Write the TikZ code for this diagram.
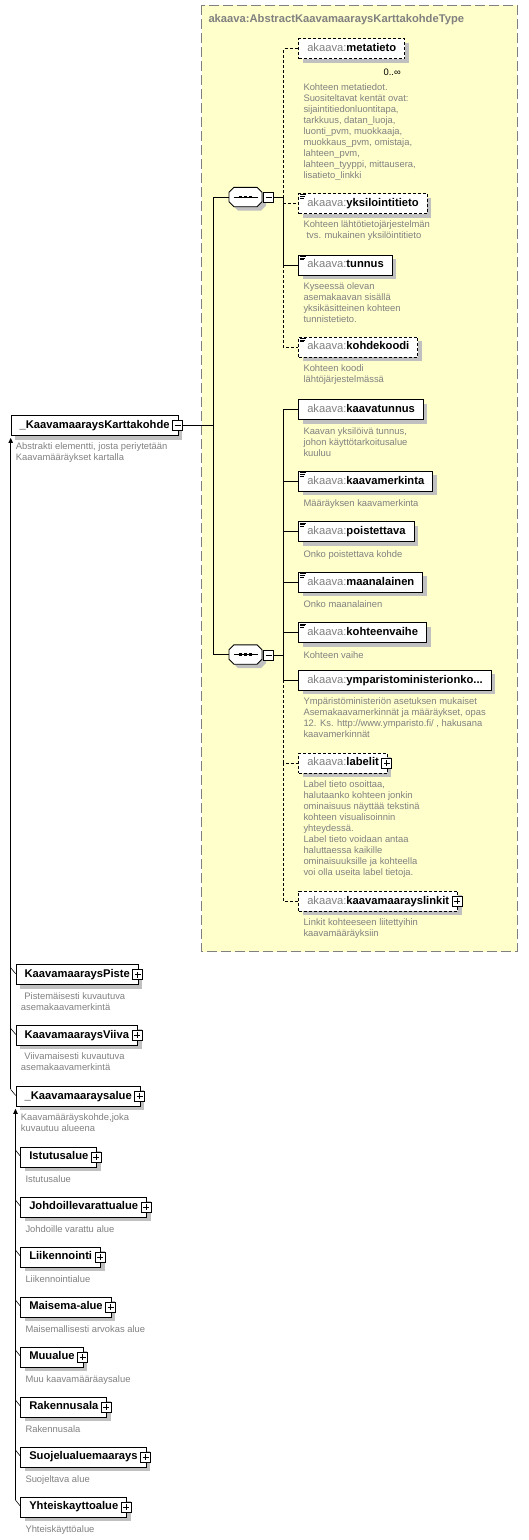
\documentclass[tikz,border=0pt]{standalone}
\usepackage{fontspec}
\setmainfont{Liberation Sans}
\usetikzlibrary{shadows,arrows.meta}
\definecolor{yel}{RGB}{255,255,204}
\definecolor{bordergray}{RGB}{128,128,128}
\definecolor{shgray}{RGB}{192,192,192}
\definecolor{descgray}{RGB}{128,128,128}
\definecolor{pfx}{RGB}{128,128,128}
\newcommand\akx[1]{{\color{pfx}akaava:}\textbf{#1}}
\newcommand\icsp{\hspace{4pt}}
\begin{document}
\begin{tikzpicture}[x=1pt,y=-1pt,
 elem/.style={draw=black, fill=white, line width=0.9pt, anchor=west, minimum height=20pt,
   inner xsep=8.5pt, inner ysep=0pt, font=\fontsize{11.2}{13}\selectfont,
   text height=8.2pt, text depth=2.4pt,
   drop shadow={shadow xshift=4pt, shadow yshift=-4pt, fill=shgray, opacity=1}},
 opt/.style={elem, dash pattern=on 3pt off 2pt},
 desc/.style={anchor=north west, inner sep=0pt, align=left, text=descgray,
   font=\fontsize{9.4}{11}\selectfont, execute at begin node={\rule{0pt}{8pt}}},
 pmbox/.style={draw=black, fill=white, line width=0.7pt, minimum size=10pt, inner sep=0pt},
 minus/.style={pmbox, path picture={\draw[line width=0.7pt] ([xshift=2pt]path picture bounding box.west) -- ([xshift=-2pt]path picture bounding box.east);}},
 plus/.style={pmbox, path picture={\draw[line width=0.7pt] ([xshift=2pt]path picture bounding box.west) -- ([xshift=-2pt]path picture bounding box.east);
   \draw[line width=0.7pt] ([yshift=-2pt]path picture bounding box.north) -- ([yshift=2pt]path picture bounding box.south);}},
 conn/.style={line width=0.9pt},
 oconn/.style={line width=0.9pt, dash pattern=on 3pt off 2pt},
 tick/.style={line width=0.6pt},
 docicon/.pic={\draw[line width=0.7pt] (1.5,1.5) -- (7.5,1.5) (1.5,3.3) -- (7,3.3) (1.5,5.1) -- (5.5,5.1);},
 seq/.pic={
   \fill[shgray] (-11.5+4,-9.7+4) -- (11.5+4,-9.7+4) -- (16.5+4,-4.7+4) -- (16.5+4,4.7+4) -- (11.5+4,9.7+4) -- (-11.5+4,9.7+4) -- (-16.5+4,4.7+4) -- (-16.5+4,-4.7+4) -- cycle;
   \draw[fill=white, line width=0.9pt] (-11.5,-9.7) -- (11.5,-9.7) -- (16.5,-4.7) -- (16.5,4.7) -- (11.5,9.7) -- (-11.5,9.7) -- (-16.5,4.7) -- (-16.5,-4.7) -- cycle;
   \draw[line width=0.9pt] (-11.8,0) -- (12.5,0);
   \foreach \d in {-4.8,0.2,5.2} \fill (\d-1.4,-1.3) rectangle (\d+1.4,1.3);
   \node[inner sep=0pt, minimum width=33pt, minimum height=19.4pt] (-box) at (0,0) {};
   \node[minus] (-pm) at (23,0.6) {};
 },
]
\useasboundingbox (0,0) rectangle (528,1540);

% type box
\draw[draw=bordergray, fill=yel, line width=1pt, dash pattern=on 10pt off 4pt] (201.7,5) rectangle (517,951.5);
\node[anchor=west, inner sep=0pt, text=bordergray, font=\fontsize{11.2}{13}\selectfont\bfseries] (title) at (208.3,20) {akaava:AbstractKaavamaaraysKarttakohdeType};

% coordinates of the vertical lines
\coordinate (spine) at (213,0);
\coordinate (g1x) at (283.3,0);
\coordinate (l1x) at (10.7,0);
\coordinate (l2x) at (15.5,0);

% compositors
\pic (s1) at (245.5,197) {seq};
\pic (s2) at (245.5,654.5) {seq};

% group 1
\node[opt] (metatieto) at (298.3,48.8) {\akx{metatieto}};
\node[anchor=east, inner sep=0pt, font=\fontsize{9.4}{11}\selectfont] (mult) at (401,72) {0..∞};
\node[desc] (d-metatieto) at ([xshift=5pt,yshift=-24pt]metatieto.south west) {Kohteen metatiedot.\\Suositeltavat kentät ovat:\\sijaintitiedonluontitapa,\\tarkkuus, datan\_luoja,\\luonti\_pvm, muokkaaja,\\muokkaus\_pvm, omistaja,\\lahteen\_pvm,\\lahteen\_tyyppi, mittausera,\\lisatieto\_linkki};

\node[opt] (yksilointitieto) at (298.3,203.5) {\akx{yksilointitieto}};
\node[desc] (d-yksilointitieto) at ([xshift=5pt,yshift=-7pt]yksilointitieto.south west) {Kohteen lähtötietojärjestelmän\\\hspace*{3pt}tvs. mukainen yksilöintitieto};

\node[elem] (tunnus) at (298.3,265) {\akx{tunnus}};
\node[desc] (d-tunnus) at ([xshift=5pt,yshift=-7pt]tunnus.south west) {Kyseessä olevan\\asemakaavan sisällä\\yksikäsitteinen kohteen\\tunnistetieto.};

\node[opt] (kohdekoodi) at (298.3,347) {\akx{kohdekoodi}};
\node[desc] (d-kohdekoodi) at ([xshift=5pt,yshift=-7pt]kohdekoodi.south west) {Kohteen koodi\\lähtöjärjestelmässä};

% group 2
\node[elem] (kaavatunnus) at (298.3,409.6) {\akx{kaavatunnus}};
\node[desc] (d-kaavatunnus) at ([xshift=5pt,yshift=-7pt]kaavatunnus.south west) {Kaavan yksilöivä tunnus,\\johon käyttötarkoitusalue\\kuuluu};

\node[elem] (kaavamerkinta) at (298.3,481.2) {\akx{kaavamerkinta}};
\node[desc] (d-kaavamerkinta) at ([xshift=5pt,yshift=-7pt]kaavamerkinta.south west) {Määräyksen kaavamerkinta};

\node[elem] (poistettava) at (298.3,531.8) {\akx{poistettava}};
\node[desc] (d-poistettava) at ([xshift=5pt,yshift=-7pt]poistettava.south west) {Onko poistettava kohde};

\node[elem] (maanalainen) at (298.3,582.3) {\akx{maanalainen}};
\node[desc] (d-maanalainen) at ([xshift=5pt,yshift=-7pt]maanalainen.south west) {Onko maanalainen};

\node[elem] (kohteenvaihe) at (298.3,632.8) {\akx{kohteenvaihe}};
\node[desc] (d-kohteenvaihe) at ([xshift=5pt,yshift=-7pt]kohteenvaihe.south west) {Kohteen vaihe};

\node[elem] (ympar) at (298.3,680.4) {\akx{ymparistoministerionko...}\hspace{8pt}};
\node[desc] (d-ympar) at ([xshift=5pt,yshift=-7pt]ympar.south west) {Ympäristöministeriön asetuksen mukaiset\\Asemakaavamerkinnät ja määräykset, opas\\12. Ks. http://www.ymparisto.fi/ , hakusana\\kaavamerkinnät};

\node[opt] (labelit) at (298.3,763) {\akx{labelit}\icsp};
\node[desc] (d-labelit) at ([xshift=5pt,yshift=-7pt]labelit.south west) {Label tieto osoittaa,\\halutaanko kohteen jonkin\\ominaisuus näyttää tekstinä\\kohteen visualisoinnin\\yhteydessä.\\Label tieto voidaan antaa\\haluttaessa kaikille\\ominaisuuksille ja kohteella\\voi olla useita label tietoja.};

\node[opt] (linkit) at (298.3,901.4) {\akx{kaavamaarayslinkit}\icsp};
\node[desc] (d-linkit) at ([xshift=5pt,yshift=-7pt]linkit.south west) {Linkit kohteeseen liitettyihin\\kaavamääräyksiin};

\foreach \n in {yksilointitieto,tunnus,kohdekoodi,kaavamerkinta,poistettava,maanalainen,kohteenvaihe}
  \pic at (\n.north west) {docicon};

% main element
\node[elem] (main) at (10.7,425.5) {\textbf{\_KaavamaaraysKarttakohde}\icsp};
\node[minus] (mainpm) at ([xshift=-1pt]main.east) {};
\node[desc] (d-main) at ([xshift=5pt,yshift=-7pt]main.south west) {Abstrakti elementti, josta periytetään\\Kaavamääräykset kartalla};

% derived elements
\node[elem] (piste) at (15.7,974.7) {\textbf{KaavamaaraysPiste}\icsp};
\node[desc] (d-piste) at ([xshift=5pt,yshift=-7pt]piste.south west) {\hspace*{3.5pt}Pistemäisesti kuvautuva\\asemakaavamerkintä};
\node[elem] (viiva) at (15.7,1035.3) {\textbf{KaavamaaraysViiva}\icsp};
\node[desc] (d-viiva) at ([xshift=5pt,yshift=-7pt]viiva.south west) {\hspace*{3.5pt}Viivamaisesti kuvautuva\\asemakaavamerkintä};
\node[elem] (kalue) at (15.7,1096.4) {\textbf{\_Kaavamaaraysalue}\icsp};
\node[desc] (d-kalue) at ([xshift=5pt,yshift=-7pt]kalue.south west) {Kaavamääräyskohde,joka\\kuvautuu alueena};

\node[elem] (istutus) at (20.3,1157) {\textbf{Istutusalue}\icsp};
\node[desc] (d-istutus) at ([xshift=5pt,yshift=-7pt]istutus.south west) {Istutusalue};
\node[elem] (johdoille) at (20.3,1207) {\textbf{Johdoillevarattualue}\icsp};
\node[desc] (d-johdoille) at ([xshift=5pt,yshift=-7pt]johdoille.south west) {Johdoille varattu alue};
\node[elem] (liikennointi) at (20.3,1257) {\textbf{Liikennointi}\icsp};
\node[desc] (d-liikennointi) at ([xshift=5pt,yshift=-7pt]liikennointi.south west) {Liikennointialue};
\node[elem] (maisema) at (20.3,1307) {\textbf{Maisema-alue}\icsp};
\node[desc] (d-maisema) at ([xshift=5pt,yshift=-7pt]maisema.south west) {Maisemallisesti arvokas alue};
\node[elem] (muualue) at (20.3,1357) {\textbf{Muualue}\icsp};
\node[desc] (d-muualue) at ([xshift=5pt,yshift=-7pt]muualue.south west) {Muu kaavamääräaysalue};
\node[elem] (rakennusala) at (20.3,1407) {\textbf{Rakennusala}\icsp};
\node[desc] (d-rakennusala) at ([xshift=5pt,yshift=-7pt]rakennusala.south west) {Rakennusala};
\node[elem] (suojelu) at (20.3,1457) {\textbf{Suojelualuemaarays}\icsp};
\node[desc] (d-suojelu) at ([xshift=5pt,yshift=-7pt]suojelu.south west) {Suojeltava alue};
\node[elem] (yhteis) at (20.3,1507) {\textbf{Yhteiskayttoalue}\icsp};
\node[desc] (d-yhteis) at ([xshift=5pt,yshift=-7pt]yhteis.south west) {Yhteiskäyttöalue};

\foreach \n in {labelit,linkit,piste,viiva,kalue,istutus,johdoille,liikennointi,maisema,muualue,rakennusala,suojelu,yhteis}
  \node[plus] (\n-pm) at ([xshift=-1pt]\n.east) {};

% connectors: main to compositors
\draw[conn] (mainpm.east) -- (mainpm.east -| spine);
\draw[conn] (s1-box.west) -- (s1-box.west -| spine) -- (s2-box.west -| spine) -- (s2-box.west);

% group 1
\draw[conn] (s1-pm.east) -- (s1-pm.east -| g1x);
\draw[oconn] (s1-pm.east -| g1x) |- (metatieto.west);
\draw[conn] (s1-pm.east -| g1x) |- (tunnus.west);
\draw[oconn] (yksilointitieto.west -| g1x) -- (yksilointitieto.west);
\draw[oconn] (tunnus.west -| g1x) |- (kohdekoodi.west);

% group 2
\draw[conn] (s2-pm.east) -- (s2-pm.east -| g1x);
\draw[conn] (s2-pm.east -| g1x) |- (kaavatunnus.west);
\foreach \n in {kaavamerkinta,poistettava,maanalainen,kohteenvaihe}
  \draw[conn] (\n.west -| g1x) -- (\n.west);
\draw[conn] (s2-pm.east -| g1x) |- (ympar.west);
\draw[oconn] (ympar.west -| g1x) |- (labelit.west);
\draw[oconn] (labelit.west -| g1x) |- (linkit.west);

% derivation hierarchy
\draw[conn, -{Triangle[width=4.5pt,length=5pt]}] ([yshift=-3.5pt]kalue.north west -| l1x) -- ([yshift=-2pt]main.south west -| l1x);
\foreach \n in {piste,viiva,kalue}
  \draw[tick] ([yshift=-3.5pt]\n.north west -| l1x) -- ([yshift=-9.5pt]\n.north west);
\draw[conn, -{Triangle[width=4.5pt,length=5pt]}] ([yshift=-3.5pt]yhteis.north west -| l2x) -- ([yshift=-2pt]kalue.south west -| l2x);
\foreach \n in {istutus,johdoille,liikennointi,maisema,muualue,rakennusala,suojelu,yhteis}
  \draw[tick] ([yshift=-3.5pt]\n.north west -| l2x) -- ([yshift=-9.5pt]\n.north west);
\end{tikzpicture}
\end{document}
